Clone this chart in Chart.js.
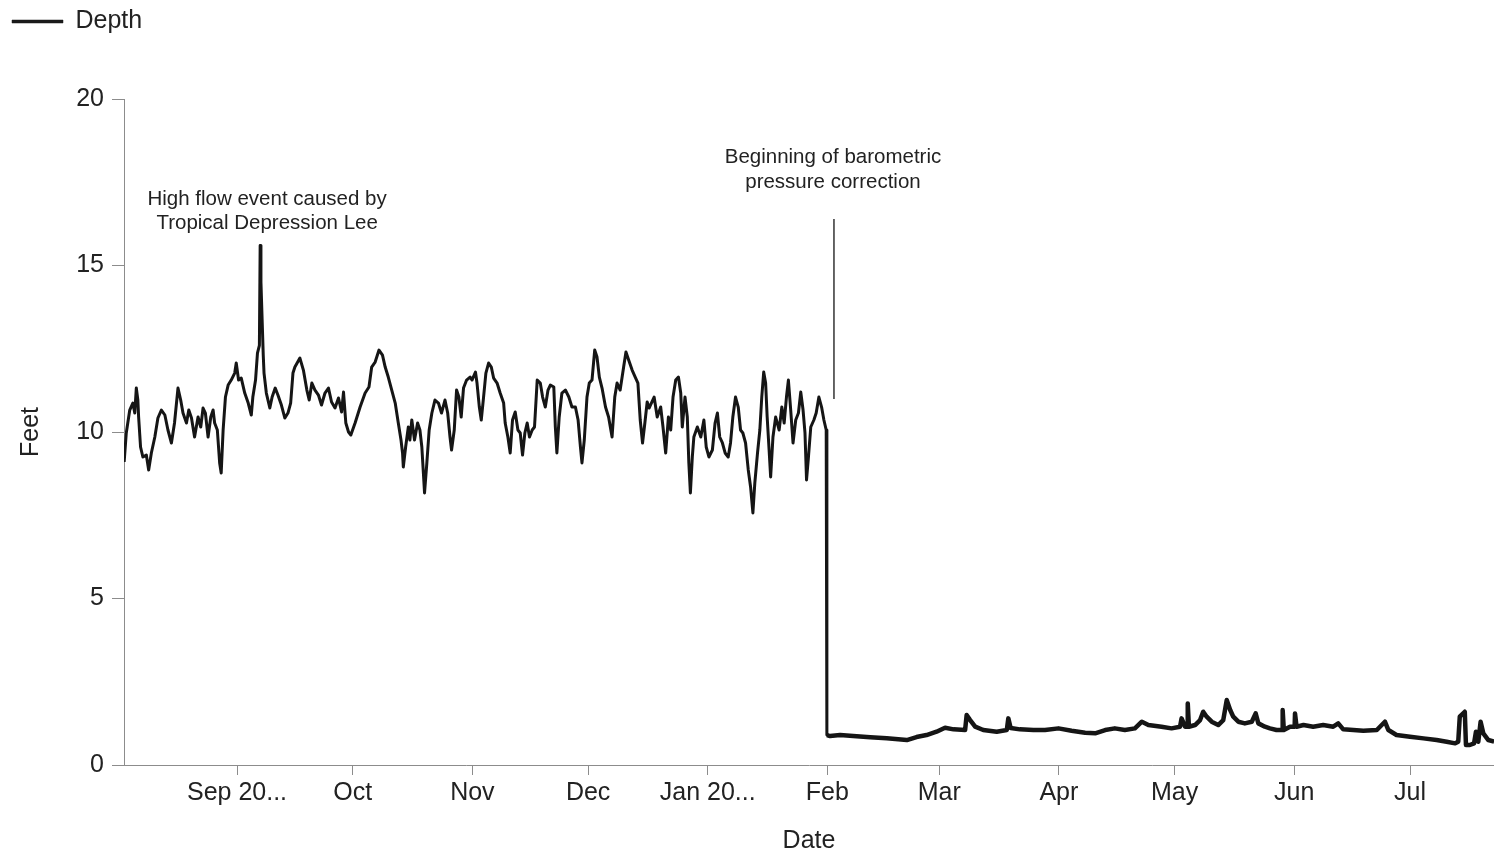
<!DOCTYPE html>
<html><head><meta charset="utf-8">
<script src="https://cdn.jsdelivr.net/npm/chart.js@4.4.1/dist/chart.umd.min.js"></script>
<style>html,body{margin:0;padding:0;background:#fff}#wrap{width:1494px;height:854px}</style>
</head><body><div id="wrap"><canvas id="c" width="1494" height="854"></canvas></div>
<script>
// ---- data (days since 2011-08-01, depth in feet) ----
const seriesName = 'Depth';
const depthDays = [
1.75,2.3,3.2,4.0,4.5,4.9,5.3,5.5,6.0,6.6,7.5,8.1,8.8,9.7,10.5,11.4,12.3,13.1,14.0,14.8,15.7,16.4,17.0,17.9,18.5,19.2,20.0,20.9,21.6,22.2,22.8,23.5,24.2,24.8,25.2,25.9,26.5,26.9,27.4,28.0,28.7,29.5,30.4,30.8,31.4,32.1,33.0,33.9,34.7,35.1,35.8,36.3,36.8,37.0,37.2,37.5,37.8,38.0,38.6,39.5,40.1,40.9,41.6,42.5,43.4,44.2,44.9,45.5,46.0,47.3,48.2,49.1,49.7,50.4,51.2,52.1,52.9,53.8,54.7,55.5,56.4,57.3,58.1,58.6,59.2,59.9,60.5,61.6,62.9,64.2,65.2,65.9,66.8,67.8,68.7,69.4,70.2,71.1,72.0,72.8,73.5,73.9,74.1,74.7,75.4,75.8,76.3,77.0,77.8,78.4,78.9,79.3,79.6,80.2,80.8,81.5,82.3,83.2,84.0,84.9,85.6,86.2,86.6,87.3,87.9,88.5,89.1,89.7,90.5,91.4,91.9,92.8,93.2,93.8,94.3,94.9,95.5,96.2,96.9,97.5,98.4,99.2,100.1,100.5,101.2,101.8,102.4,103.1,103.8,104.4,105.0,105.6,106.2,106.8,107.5,108.1,108.8,109.6,110.2,110.9,111.6,112.2,113.1,113.5,113.9,114.5,115.2,116.1,117.0,117.8,118.7,119.4,120.0,120.4,121.0,121.7,122.3,123.0,123.7,124.3,124.9,125.6,126.5,127.3,128.2,128.9,129.5,130.3,131.2,131.8,132.5,133.4,134.2,134.9,135.5,136.1,136.7,137.3,137.8,139.1,139.9,140.8,141.4,142.1,142.8,143.4,144.0,144.7,145.4,146.0,146.4,147.1,147.7,148.1,148.5,149.0,149.4,150.3,151.2,152.0,152.6,153.3,154.2,154.9,155.5,156.1,156.8,157.5,158.3,158.9,159.5,160.2,160.9,161.5,162.1,162.8,163.5,164.1,164.7,165.2,165.9,166.5,167.0,167.5,168.0,168.4,168.9,169.3,169.9,170.6,171.5,172.2,172.8,173.4,173.9,174.5,175.1,175.8,176.5,177.1,177.7,178.2,178.6,179.1,179.7,180.5,181.1,181.8,182.5,183.1,183.7,183.85,183.9,
184.7,187.3,190.7,195.1,199.4,204.6,207.1,209.7,212.3,214.5,216.7,219.7,220.1,221.0,222.3,224.4,227.9,230.5,230.9,231.5,233.9,237.4,240.4,243.9,247.3,250.8,253.4,256.0,258.5,261.1,263.7,265.5,267.2,270.6,273.2,275.4,275.8,276.7,277.3,277.4,277.7,279.3,280.6,281.4,282.3,283.6,285.3,286.6,287.5,288.4,289.2,290.5,292.2,294.0,295.0,295.7,297.4,298.7,300.4,301.9,302.0,302.3,303.9,305.1,305.2,305.6,307.4,309.9,312.5,315.1,316.4,317.7,320.3,322.9,326.4,328.5,329.4,331.5,335.0,338.5,341.9,344.5,346.7,347.5,347.9,349.2,349.5,350.5,351.6,352.1,352.7,353.3,354.0,355.3,356.8
];
const depthFeet = [
9.1,9.97,10.66,10.87,10.57,11.32,10.96,10.45,9.55,9.25,9.31,8.86,9.37,9.85,10.42,10.66,10.51,10.06,9.67,10.27,11.32,10.96,10.57,10.27,10.66,10.42,9.85,10.45,10.15,10.72,10.57,9.85,10.45,10.66,10.27,10.06,9.07,8.77,10.06,11.05,11.41,11.56,11.77,12.07,11.56,11.62,11.17,10.87,10.51,11.05,11.56,12.37,12.6,15.6,14.5,13.4,12.3,11.77,11.17,10.72,11.05,11.32,11.11,10.81,10.42,10.57,10.87,11.77,11.95,12.22,11.86,11.26,10.96,11.47,11.26,11.11,10.81,11.17,11.32,10.90,10.72,11.02,10.60,11.20,10.27,10.00,9.91,10.27,10.75,11.17,11.35,11.95,12.10,12.46,12.31,11.95,11.65,11.26,10.87,10.27,9.76,9.37,8.95,9.55,10.15,9.76,10.36,9.76,10.27,10.06,9.55,8.77,8.17,9.07,10.06,10.57,10.96,10.87,10.57,10.96,10.57,9.85,9.46,10.06,11.26,11.05,10.45,11.32,11.56,11.65,11.56,11.80,11.47,10.75,10.36,11.05,11.77,12.07,11.95,11.62,11.47,11.17,10.87,10.27,9.85,9.37,10.36,10.60,10.06,9.97,9.31,9.97,10.27,9.85,10.06,10.15,11.56,11.47,11.05,10.75,11.26,11.41,11.35,10.15,9.37,10.45,11.17,11.26,11.05,10.75,10.75,10.36,9.55,9.07,9.76,11.05,11.47,11.56,12.46,12.25,11.65,11.32,10.75,10.45,9.85,11.05,11.47,11.26,11.95,12.40,12.16,11.86,11.65,11.47,10.36,9.67,10.27,10.90,10.72,11.05,10.45,10.75,10.15,9.37,10.45,10.06,11.05,11.56,11.65,11.17,10.15,11.05,10.45,9.07,8.17,9.25,9.85,10.15,9.85,10.36,9.55,9.25,9.46,10.27,10.57,9.85,9.67,9.37,9.25,9.67,10.45,11.05,10.75,10.06,9.97,9.67,8.86,8.35,7.57,8.47,9.37,10.06,11.05,11.80,11.47,10.45,9.46,8.65,9.85,10.45,10.06,10.75,10.27,11.05,11.56,10.66,9.67,10.36,10.57,11.20,10.66,9.97,8.56,9.25,10.15,10.36,10.57,11.05,10.75,10.36,10.06,9.95,0.9,
0.87,0.90,0.87,0.83,0.80,0.75,0.84,0.90,1.00,1.12,1.07,1.05,1.50,1.35,1.15,1.05,1.00,1.05,1.40,1.11,1.07,1.05,1.05,1.10,1.03,0.97,0.95,1.05,1.10,1.05,1.10,1.30,1.20,1.15,1.10,1.15,1.40,1.15,1.15,1.85,1.15,1.20,1.35,1.60,1.45,1.30,1.20,1.35,1.95,1.65,1.45,1.30,1.25,1.30,1.55,1.25,1.15,1.10,1.05,1.05,1.65,1.05,1.15,1.15,1.55,1.15,1.20,1.15,1.20,1.15,1.25,1.07,1.05,1.03,1.05,1.30,1.05,0.90,0.85,0.80,0.75,0.70,0.65,0.70,1.45,1.60,0.60,0.60,0.65,1.00,0.70,1.30,0.95,0.75,0.70
];
// ---- axes ----
const monthTickDays = [31, 61, 92, 122, 153, 184, 213, 244, 274, 305, 335];
const monthTickLabels = ['Sep 20...', 'Oct', 'Nov', 'Dec', 'Jan 20...', 'Feb', 'Mar', 'Apr', 'May', 'Jun', 'Jul'];
const dayRange = [1.71, 356.77];
const feetTicks = [0, 5, 10, 15, 20];
const xTitle = 'Date';
const yTitle = 'Feet';
// ---- annotations (data coordinates) ----
const noteTexts = [
  { day: 38.8, feet: 17.0, text: 'High flow event caused by' },
  { day: 38.8, feet: 16.28, text: 'Tropical Depression Lee' },
  { day: 185.45, feet: 18.26, text: 'Beginning of barometric' },
  { day: 185.45, feet: 17.51, text: 'pressure correction' }
];
const noteLines = [ { day: 185.71, from: 10.99, to: 16.4 } ];
const correctionStartDay = 183.9;

const FONT = "'Liberation Sans', Arial, sans-serif";
const TXT = '#222';
const AXIS = '#8c8c8c';

const points = depthDays.map((d, i) => ({ x: d, y: depthFeet[i] }));

const legendSpace = {
  id: 'legendSpace',
  beforeInit(chart) {
    const orig = chart.legend.fit;
    chart.legend.fit = function () { orig.bind(chart.legend)(); this.height += 55; };
  }
};
const notes = {
  id: 'notes',
  afterDatasetsDraw(chart) {
    const { ctx, scales: { x, y } } = chart;
    ctx.save();
    ctx.fillStyle = TXT;
    ctx.font = '20.5px ' + FONT;
    ctx.textAlign = 'center';
    ctx.textBaseline = 'middle';
    noteTexts.forEach(n => ctx.fillText(n.text, x.getPixelForValue(n.day), y.getPixelForValue(n.feet)));
    ctx.strokeStyle = '#333';
    ctx.lineWidth = 1.5;
    noteLines.forEach(l => {
      const px = x.getPixelForValue(l.day);
      ctx.beginPath();
      ctx.moveTo(px, y.getPixelForValue(l.from));
      ctx.lineTo(px, y.getPixelForValue(l.to));
      ctx.stroke();
    });
    ctx.restore();
  }
};

new Chart(document.getElementById('c'), {
  type: 'line',
  data: { datasets: [{
    label: seriesName, data: points, borderColor: '#151515', backgroundColor: '#151515',
    borderWidth: 3, pointRadius: 0, tension: 0, borderJoinStyle: 'round', fill: false,
    segment: { borderWidth: c => (c.p0.parsed.x >= correctionStartDay ? 4.5 : 3) }
  }] },
  options: {
    responsive: false, animation: false, devicePixelRatio: 1,
    layout: { padding: { left: 4, top: 1, right: 0, bottom: 0 } },
    plugins: {
      legend: { display: true, position: 'top', align: 'start',
        labels: { boxWidth: 51, boxHeight: 3, padding: 8, color: TXT, font: { family: FONT, size: 25 },
          generateLabels: chart => Chart.defaults.plugins.legend.labels.generateLabels(chart)
            .map(l => Object.assign(l, { lineWidth: 0.5, strokeStyle: '#1a1a1a', fillStyle: '#1a1a1a' })) } },
      tooltip: { enabled: false }
    },
    scales: {
      x: { type: 'linear', min: dayRange[0], max: dayRange[1],
        afterBuildTicks: s => { s.ticks = monthTickDays.map(v => ({ value: v })); },
        afterFit: s => { s.height = 89; },
        ticks: { autoSkip: false, maxRotation: 0, padding: 3, color: TXT, font: { family: FONT, size: 25 },
          callback: v => { const i = monthTickDays.indexOf(v); return i >= 0 ? monthTickLabels[i] : ''; } },
        grid: { drawOnChartArea: false, drawTicks: true, tickLength: 10, color: AXIS },
        border: { display: true, color: AXIS },
        title: { display: true, text: xTitle, color: TXT, padding: { top: 0, bottom: 0 }, font: { family: FONT, size: 25, lineHeight: 1.0 } }
      },
      y: { type: 'linear', min: 0, max: 20,
        afterBuildTicks: s => { s.ticks = feetTicks.map(v => ({ value: v })); },
        afterFit: s => { s.width = 120; },
        ticks: { padding: 8, color: TXT, font: { family: FONT, size: 25 } },
        grid: { drawOnChartArea: false, drawTicks: true, tickLength: 12, color: AXIS },
        border: { display: true, color: AXIS },
        title: { display: true, text: yTitle, color: TXT, padding: 12, font: { family: FONT, size: 25 } }
      }
    }
  },
  plugins: [legendSpace, notes]
});
</script>
</body></html>
